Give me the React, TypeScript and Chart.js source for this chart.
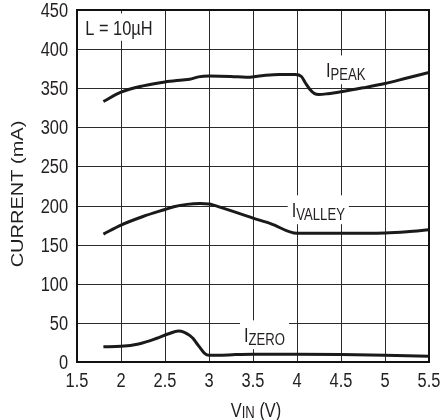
import { useEffect, useRef } from 'react';
import { Chart, registerables } from 'chart.js';

Chart.register(...registerables);

// ---- data ----
const xTickValues = [1.5, 2, 2.5, 3, 3.5, 4, 4.5, 5, 5.5];
const xTickLabels = ['1.5', '2', '2.5', '3', '3.5', '4', '4.5', '5', '5.5'];
const yTickValues = [0, 50, 100, 150, 200, 250, 300, 350, 400, 450];
const yTickLabels = ['0', '50', '100', '150', '200', '250', '300', '350', '400', '450'];

const peakVin = [1.8, 2.0, 2.25, 2.5, 2.7, 2.78, 2.88, 3.0, 3.25, 3.42, 3.6, 3.8, 3.98, 4.05, 4.1, 4.15, 4.2, 4.25, 4.35, 4.5, 4.75, 5.0, 5.25, 5.5];
const peakCurrent = [333, 345, 353, 358, 360.5, 361.5, 364.5, 365.5, 365, 364, 366, 367.5, 367.5, 365, 356, 348, 343, 342, 343, 345.5, 350.5, 356, 363, 370];

const valleyVin = [1.8, 2.0, 2.25, 2.5, 2.6, 2.75, 2.9, 3.0, 3.15, 3.5, 3.7, 4.0, 4.5, 5.0, 5.25, 5.5];
const valleyCurrent = [163.5, 175, 186, 195, 198.5, 201.5, 202.5, 202, 197, 184, 177, 164.5, 164.5, 165, 166.5, 169];

const zeroVin = [1.8, 2.0, 2.2, 2.4, 2.55, 2.65, 2.72, 2.78, 2.82, 2.86, 2.9, 2.95, 3.0, 3.1, 3.3, 3.5, 4.0, 4.5, 5.0, 5.5];
const zeroCurrent = [19.5, 20, 23, 30, 36.5, 39.5, 38, 34, 30, 24, 18, 11, 8.5, 8.5, 9.5, 10, 10, 9.5, 8.5, 7.5];

// annotation labels: main text, subscript, anchor (Vin, mA) = baseline-left of main text
const labelMain = ['L = 10µH', 'I', 'I', 'I'];
const labelSub = ['', 'PEAK', 'VALLEY', 'ZERO'];
const labelVin = [1.594, 4.33, 3.94, 3.398];
const labelCurrent = [418.4, 364.7, 185.8, 26];

const FONT = '"Liberation Sans", Arial, sans-serif';
const SQUEEZE = 0.82; // reference text is horizontally condensed
const INK = '#231f20';
const GRID = '#2b2b2b';

// draw horizontally condensed text; returns drawn width
function drawText(ctx: any, text: string, x: number, y: number, size: number, align: 'left' | 'center' | 'right') {
  ctx.font = `${size}px ${FONT}`;
  const w = ctx.measureText(text).width * SQUEEZE;
  let left = x;
  if (align === 'center') left = x - w / 2;
  if (align === 'right') left = x - w;
  ctx.save();
  ctx.translate(left, y);
  ctx.scale(SQUEEZE, 1);
  ctx.textAlign = 'left';
  ctx.textBaseline = 'alphabetic';
  ctx.fillText(text, 0, 0);
  ctx.restore();
  return w;
}
function textWidth(ctx: any, text: string, size: number) {
  ctx.font = `${size}px ${FONT}`;
  return ctx.measureText(text).width * SQUEEZE;
}

const decorPlugin = {
  id: 'decor',
  beforeDatasetsDraw(chart: any) {
    const { ctx, scales, chartArea } = chart;
    const xs = scales.x;
    const ys = scales.y;
    ctx.save();
    // grid lines placed through the scales
    ctx.strokeStyle = GRID;
    ctx.lineWidth = 1;
    ctx.setLineDash([]);
    ctx.beginPath();
    xTickValues.forEach((v) => {
      const px = Math.round(xs.getPixelForValue(v)) + 0.5;
      ctx.moveTo(px, chartArea.top);
      ctx.lineTo(px, chartArea.bottom);
    });
    yTickValues.forEach((v) => {
      const py = Math.round(ys.getPixelForValue(v)) + 0.5;
      ctx.moveTo(chartArea.left, py);
      ctx.lineTo(chartArea.right, py);
    });
    ctx.stroke();

    // label boxes and labels
    for (let i = 0; i < labelMain.length; i++) {
      const px = xs.getPixelForValue(labelVin[i]);
      const py = ys.getPixelForValue(labelCurrent[i]);
      const mainSize = 20;
      const subSize = 16;
      const w1 = textWidth(ctx, labelMain[i], mainSize);
      const w2 = labelSub[i] ? textWidth(ctx, labelSub[i], subSize) : 0;
      const top = py - 0.716 * mainSize - 7;
      const bottom = labelSub[i] ? py + 3.5 + 4 : py + 6;
      ctx.fillStyle = '#ffffff';
      ctx.fillRect(px - 4, top, w1 + w2 + 8, bottom - top);
      ctx.fillStyle = INK;
      drawText(ctx, labelMain[i], px, py, mainSize, 'left');
      if (labelSub[i]) drawText(ctx, labelSub[i], px + w1, py + 3.5, subSize, 'left');
    }
    ctx.restore();
  },
  afterDraw(chart: any) {
    const { ctx, chartArea, scales } = chart;
    const xs = scales.x;
    const ys = scales.y;
    ctx.save();
    // frame
    ctx.strokeStyle = '#111111';
    ctx.lineWidth = 2;
    ctx.setLineDash([]);
    ctx.beginPath();
    ctx.rect(Math.round(chartArea.left), Math.round(chartArea.top), Math.round(chartArea.right - chartArea.left), Math.round(chartArea.bottom - chartArea.top));
    ctx.stroke();

    ctx.fillStyle = INK;
    // tick labels
    const tickSize = 20;
    xTickValues.forEach((v, i) => {
      drawText(ctx, xTickLabels[i], xs.getPixelForValue(v), chartArea.bottom + 25, tickSize, 'center');
    });
    yTickValues.forEach((v, i) => {
      drawText(ctx, yTickLabels[i], chartArea.left - 9, ys.getPixelForValue(v) + 7, tickSize, 'right');
    });

    // y title (rotated, vertical direction condensed)
    const cy = (chartArea.top + chartArea.bottom) / 2 + 8;
    ctx.save();
    ctx.translate(17.5, cy);
    ctx.scale(SQUEEZE, 1);
    ctx.rotate(-Math.PI / 2);
    ctx.font = `20px ${FONT}`;
    ctx.textAlign = 'center';
    ctx.textBaseline = 'alphabetic';
    ctx.fillText('CURRENT (mA)', 0, (0.716 * 20) / 2);
    ctx.restore();

    // x title with subscript
    const parts = [
      { t: 'V', s: 20, dy: 0 },
      { t: 'IN', s: 16, dy: 1.6 },
      { t: ' (V)', s: 20, dy: 0 },
    ];
    let total = 0;
    parts.forEach((p) => (total += textWidth(ctx, p.t, p.s)));
    let x = (chartArea.left + chartArea.right) / 2 + 3 - total / 2;
    const base = chartArea.bottom + 54.7;
    parts.forEach((p) => {
      x += drawText(ctx, p.t, x, base + p.dy, p.s, 'left');
    });
    ctx.restore();
  },
};

function toPoints(xs: number[], ys: number[]) {
  return xs.map((v, i) => ({ x: v, y: ys[i] }));
}

export default function App() {
  const canvasRef = useRef<HTMLCanvasElement | null>(null);

  useEffect(() => {
    const canvas = canvasRef.current;
    if (!canvas) return;
    const lineStyle = {
      borderColor: '#1a1a1a',
      borderWidth: 3,
      pointRadius: 0,
      fill: false,
      cubicInterpolationMode: 'monotone' as const,
    };
    const chart = new Chart(canvas, {
      type: 'line',
      data: {
        datasets: [
          { label: 'IPEAK', data: toPoints(peakVin, peakCurrent), ...lineStyle },
          { label: 'IVALLEY', data: toPoints(valleyVin, valleyCurrent), ...lineStyle },
          { label: 'IZERO', data: toPoints(zeroVin, zeroCurrent), ...lineStyle },
        ],
      },
      options: {
        animation: false,
        responsive: true,
        maintainAspectRatio: false,
        // default 8px tick-mark length is added by each axis: 69+8 = 77, 50+8 = 58
        layout: { padding: { top: 10, right: 13, left: 69, bottom: 50 } },
        plugins: { legend: { display: false }, tooltip: { enabled: false } },
        scales: {
          x: {
            type: 'linear',
            min: 1.5,
            max: 5.5,
            grid: { display: true, drawOnChartArea: false, tickColor: 'rgba(0,0,0,0)' },
            border: { display: false },
            ticks: { display: false },
          },
          y: {
            type: 'linear',
            min: 0,
            max: 450,
            grid: { display: true, drawOnChartArea: false, tickColor: 'rgba(0,0,0,0)' },
            border: { display: false },
            ticks: { display: false },
          },
        },
      },
      plugins: [decorPlugin],
    });
    return () => chart.destroy();
  }, []);

  return (
    <div style={{ position: 'fixed', left: 0, top: 0, width: 442, height: 420, background: '#fff' }}>
      <canvas ref={canvasRef} />
    </div>
  );
}
